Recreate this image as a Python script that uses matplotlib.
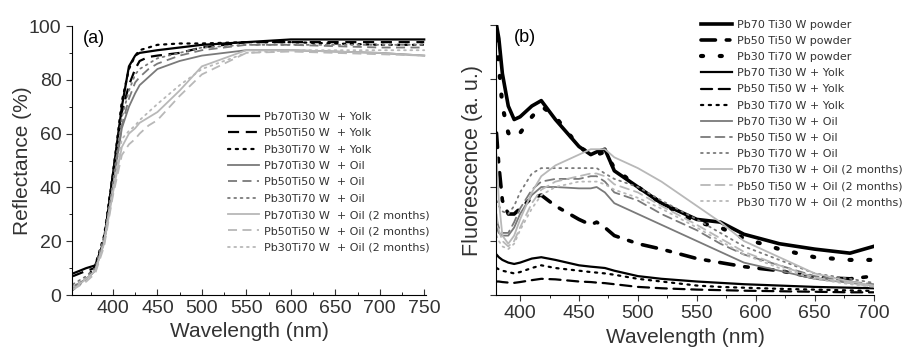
import matplotlib.pyplot as plt
from matplotlib.ticker import MultipleLocator, NullFormatter

plt.rcParams['font.family'] = ['Liberation Sans', 'DejaVu Sans']

# ---- panel (a): reflectance ----
wl_a = [355, 370, 380, 390, 400, 410, 418, 425, 430, 440, 450, 475, 500, 550, 600, 650, 700, 750]
refl = {
    'Pb70Ti30 W  + Yolk': [8, 10, 11, 20, 45, 70, 85, 89, 90, 90.5, 91, 92, 93, 94, 95, 95, 95, 95],
    'Pb50Ti50 W  + Yolk': [7, 9, 10, 20, 45, 68, 78, 84, 87, 88.5, 89, 90, 92, 94, 94, 94, 94, 94],
    'Pb30Ti70 W  + Yolk': [2, 6, 11, 22, 45, 72, 84, 89, 91, 92, 93, 93.5, 93.5, 94, 94, 93.5, 93, 93],
    'Pb70Ti30 W  + Oil': [3, 6, 9, 20, 40, 62, 70, 75, 78, 81, 84, 87, 89, 91, 91, 90.5, 90, 89],
    'Pb50Ti50 W  + Oil': [3, 6, 9, 20, 40, 63, 73, 79, 81, 84, 86, 89, 91, 93, 93, 92.5, 92, 92],
    'Pb30Ti70 W  + Oil': [4, 7, 10, 22, 42, 66, 76, 82, 84, 86, 88, 90, 92, 93, 93, 93, 93, 93],
    'Pb70Ti30 W  + Oil (2 months)': [2, 6, 9, 19, 38, 55, 60, 62, 64, 66, 68, 76, 85, 91, 91, 90.5, 90, 89],
    'Pb50Ti50 W  + Oil (2 months)': [2, 5, 8, 18, 37, 52, 56, 58, 60, 63, 65, 74, 82, 90, 90.5, 90, 89.5, 89],
    'Pb30Ti70 W  + Oil (2 months)': [3, 6, 9, 20, 40, 58, 61, 63, 65, 68, 71, 78, 84, 90, 91, 91, 91, 91],
}

# ---- panel (b): fluorescence ----
wl_b = [380, 382, 385, 390, 395, 400, 410, 418, 430, 450, 460, 465, 472, 480, 500, 520, 550, 570, 590, 620, 650, 680, 700]
fluo = {
    'Pb70 Ti30 W powder': [100, 95, 82, 70, 65, 66, 70, 72, 65, 55, 52, 53, 54, 46, 40, 34, 28, 27, 22.5, 19, 17, 15.5, 18],
    'Pb50 Ti50 W powder': [60, 48, 35, 30, 30, 32, 36, 37, 33, 28, 26, 27, 25, 22, 19, 17, 13.5, 12, 10.5, 9, 6.5, 6, 7],
    'Pb30 Ti70 W powder': [95, 85, 70, 60, 58, 60, 66, 70, 66, 55, 52, 52, 53, 47, 40, 34, 27, 25, 21, 17, 14, 13, 13],
    'Pb70 Ti30 W + Yolk': [15, 14, 13, 12, 11.5, 12, 13.5, 14, 13, 11, 10.5, 10.3, 10, 9, 7, 6, 5, 4.5, 4, 3.5, 3, 2.7, 2.5],
    'Pb50 Ti50 W + Yolk': [5, 5, 4.8, 4.6, 4.5, 4.8, 5.5, 6, 5.8, 5, 4.8, 4.6, 4.4, 4, 3, 2.5, 2, 1.8, 1.6, 1.4, 1.2, 1, 1],
    'Pb30 Ti70 W + Yolk': [10, 9.5, 9, 8.5, 8, 8.5, 10, 11, 10, 9, 8.5, 8.3, 8, 7.5, 6, 5, 3.5, 3, 2.7, 2.3, 2, 1.7, 1.5],
    'Pb70 Ti30 W + Oil': [25, 23, 22, 22, 25, 30, 37, 40, 40, 39.5, 39.5, 40, 38, 34, 30, 26, 20, 16, 12, 9, 6, 4.5, 3.5],
    'Pb50 Ti50 W + Oil': [28, 25, 23, 23, 27, 32, 39, 42, 43, 43, 44, 44, 42, 38, 35, 30, 24, 19, 15, 11, 7, 5, 4],
    'Pb30 Ti70 W + Oil': [35, 33, 31, 30, 33, 38, 45, 47, 47, 47, 47, 47, 45, 43, 40, 35, 28, 23, 18, 13, 8, 6, 4.5],
    'Pb70 Ti30 W + Oil (2 months)': [52, 35, 22, 19, 22, 28, 38, 44, 48, 52, 54, 54, 54, 51, 47, 42, 33, 27, 20, 14, 8, 5, 3.5],
    'Pb50 Ti50 W + Oil (2 months)': [30, 24, 20, 18, 20, 25, 34, 39, 42, 44, 45, 45, 44, 41, 38, 33, 26, 21, 16, 11, 6.5, 4.5, 3],
    'Pb30 Ti70 W + Oil (2 months)': [22, 20, 18, 17, 19, 24, 32, 37, 40, 42, 42, 42, 41, 39, 36, 32, 25, 20, 15, 10, 6, 4, 3],
}

# style per series: (color, linestyle, linewidth)
BLACK, MID, LIGHT = 'black', '#7a7a7a', '#b8b8b8'
solid, dashed, dotted = '-', (0, (5, 3)), (0, (1, 2.5))
styles_a = [(BLACK, solid, 1.6), (BLACK, dashed, 1.6), (BLACK, dotted, 1.6),
            (MID, solid, 1.3), (MID, dashed, 1.3), (MID, dotted, 1.3),
            (LIGHT, solid, 1.3), (LIGHT, dashed, 1.3), (LIGHT, dotted, 1.3)]
styles_b = [(BLACK, solid, 2.6), (BLACK, (0, (4, 3, 1, 3)), 2.6), (BLACK, (0, (0.5, 4)), 3.0)] + styles_a

fig = plt.figure(figsize=(9.13, 3.49), dpi=100)
ax1 = fig.add_axes([0.0789, 0.1547, 0.3877, 0.7708])
ax2 = fig.add_axes([0.5438, 0.1547, 0.4130, 0.7736])

for (label, vals), (c, ls, lw) in zip(refl.items(), styles_a):
    ax1.plot(wl_a, vals, color=c, linestyle=ls, linewidth=lw, label=label,
             dash_capstyle='round' if ls == dotted else 'butt')
for (label, vals), (c, ls, lw) in zip(fluo.items(), styles_b):
    ax2.plot(wl_b, vals, color=c, linestyle=ls, linewidth=lw, label=label,
             dash_capstyle='round')

for ax in (ax1, ax2):
    ax.spines['top'].set_visible(False)
    ax.spines['right'].set_visible(False)
    ax.set_xlabel('Wavelength (nm)', fontsize=15, color='#333333', labelpad=4)
    ax.tick_params(labelsize=14, colors='#333333', length=4)
    ax.xaxis.set_major_locator(MultipleLocator(50))
    ax.xaxis.set_minor_locator(MultipleLocator(25))

ax1.set_xlim(354, 752)
ax1.set_ylim(0, 100)
ax1.yaxis.set_major_locator(MultipleLocator(20))
ax1.yaxis.set_minor_locator(MultipleLocator(10))
ax1.tick_params(axis='x', which='both', direction='in')
ax1.set_ylabel('Reflectance (%)', fontsize=15, color='#333333', labelpad=-2)
ax1.text(0.03, 0.985, '(a)', transform=ax1.transAxes, fontsize=13, va='top')

ax2.set_xlim(380, 700)
ax2.set_ylim(0, 100)
ax2.yaxis.set_major_locator(MultipleLocator(20))
ax2.yaxis.set_major_formatter(NullFormatter())
ax2.tick_params(axis='x', which='minor', length=2)
ax2.set_ylabel('Fluorescence (a. u.)', fontsize=15.5, color='#333333', labelpad=2)
ax2.text(0.045, 0.985, '(b)', transform=ax2.transAxes, fontsize=13, va='top')

leg_font = {'family': 'DejaVu Sans', 'size': 8}
ax1.legend(loc='upper left', bbox_to_anchor=(228 / 913, 1 - 112 / 349),
           bbox_transform=fig.transFigure, frameon=False, prop=leg_font,
           handlelength=2.8, handletextpad=0.4, labelspacing=0.57, borderpad=0,
           borderaxespad=0, labelcolor='#333333')
ax2.legend(loc='upper left', bbox_to_anchor=(701 / 913, 1 - 20 / 349),
           bbox_transform=fig.transFigure, frameon=False, prop=leg_font,
           handlelength=2.8, handletextpad=0.4, labelspacing=0.55, borderpad=0,
           borderaxespad=0, labelcolor='#333333')

fig.savefig('out.png', dpi=100)
